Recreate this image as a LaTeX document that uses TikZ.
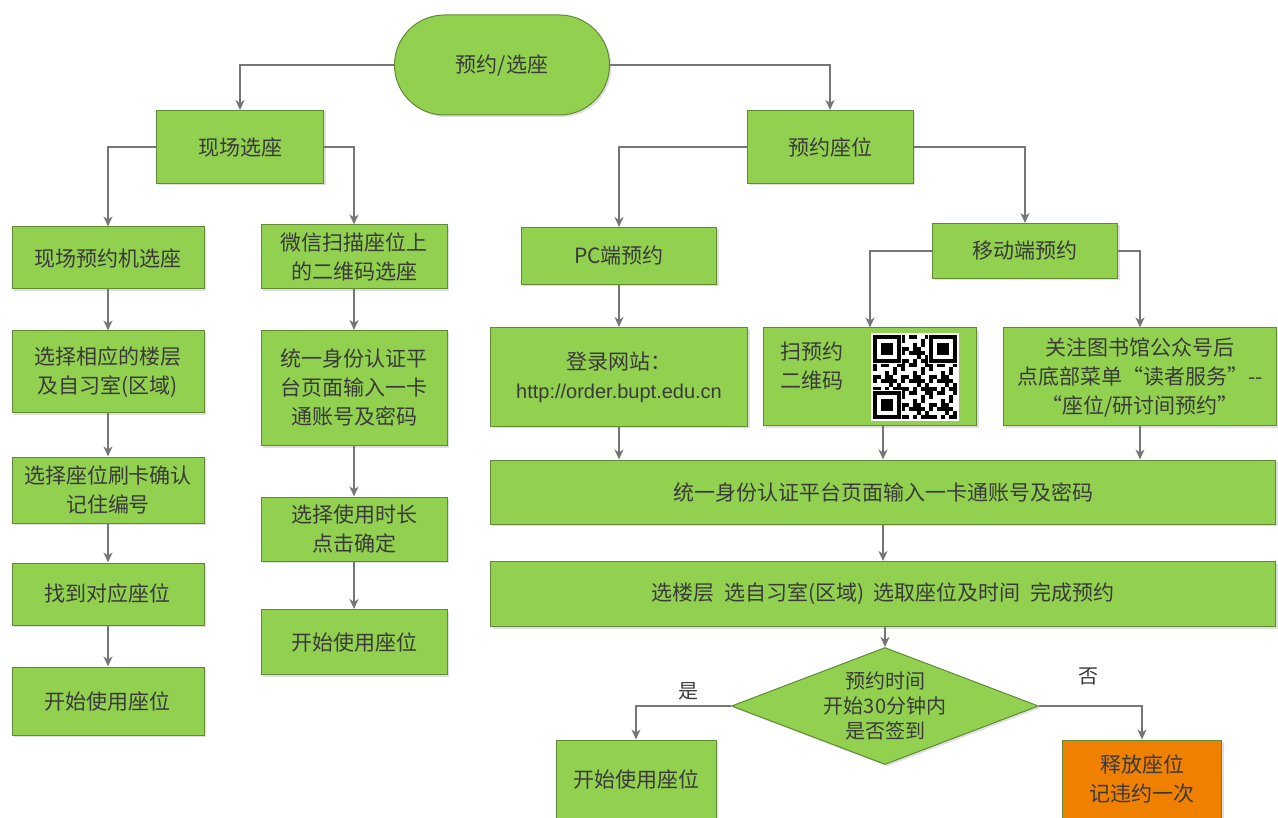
\documentclass[tikz,border=0pt]{standalone}
\usepackage{fontspec}
\setmainfont{Noto Sans CJK SC}
\newfontfamily\latinfont{Liberation Sans}
\usetikzlibrary{arrows.meta,shapes.geometric,shapes.misc,shadows}
\definecolor{boxgreen}{RGB}{146,208,80}
\definecolor{boxborder}{RGB}{96,138,52}
\definecolor{boxorange}{RGB}{240,128,0}
\definecolor{linegray}{RGB}{118,118,118}
\definecolor{textgray}{RGB}{58,58,58}
\tikzset{
  box/.style={draw=boxborder, fill=boxgreen, line width=1pt, align=center,
    text=textgray, inner sep=2pt, font=\fontsize{21}{29}\selectfont,
    drop shadow={opacity=0.25, shadow xshift=2pt, shadow yshift=-2pt}},
  flow/.style={draw=linegray, line width=1.3pt, -{Stealth[length=10pt,width=9pt,inset=3pt]}},
  answer/.style={text=textgray, font=\fontsize{20}{24}\selectfont},
  qrcode/.pic={
    \fill[white] (0,0) rectangle (88,88);
    \foreach \i in {0,...,20}{
      \foreach \j in {0,...,20}{
        \pgfmathtruncatemacro\qrv{mod(\i*\i*3+\j*7+\i*\j*5+\j*\j+\i,7)}
        \ifnum\qrv<3 \fill[black] (2+\i*4,2+\j*4) rectangle ++(4,4);\fi
      }
    }
    \foreach \fx/\fy in {2/2, 58/2, 2/58}{
      \fill[white] (\fx-1,\fy-1) rectangle ++(30,30);
      \fill[black] (\fx,\fy) rectangle ++(28,28);
      \fill[white] (\fx+4,\fy+4) rectangle ++(20,20);
      \fill[black] (\fx+8,\fy+8) rectangle ++(12,12);
    }
  }
}

\begin{document}
\begin{tikzpicture}[x=1pt, y=-1pt]
\useasboundingbox (0,0) rectangle (1278,818);
% top
\node[box, rounded rectangle, minimum width=219pt, minimum height=100pt] (start) at (502,65) {预约/选座};
\node[box, minimum width=167pt, minimum height=73pt] (onsite) at (240,147) {现场选座};
\node[box, minimum width=166pt, minimum height=73pt] (reserve) at (830,147) {预约座位};
% on-site branch
\node[box, minimum width=192pt, minimum height=62pt] (kiosk) at (108,258) {现场预约机选座};
\node[box, minimum width=192pt, minimum height=82pt] (floor) at (108,372) {选择相应的楼层\\及自习室(区域)};
\node[box, minimum width=192pt, minimum height=66pt] (swipe) at (108,490) {选择座位刷卡确认\\记住编号};
\node[box, minimum width=192pt, minimum height=62pt] (find) at (108,594) {找到对应座位};
\node[box, minimum width=192pt, minimum height=68pt] (useA) at (108,701) {开始使用座位};
\node[box, minimum width=186pt, minimum height=64pt] (wechat) at (354,257) {微信扫描座位上\\的二维码选座};
\node[box, minimum width=186pt, minimum height=115pt] (authA) at (354,388) {统一身份认证平\\台页面输入一卡\\通账号及密码};
\node[box, minimum width=186pt, minimum height=64pt] (duration) at (354,529) {选择使用时长\\点击确定};
\node[box, minimum width=186pt, minimum height=65pt] (useB) at (354,642) {开始使用座位};
% reservation branch
\node[box, minimum width=195pt, minimum height=57pt] (pc) at (619,256) {PC端预约};
\node[box, minimum width=185pt, minimum height=55pt] (mobile) at (1025,251) {移动端预约};
\node[box, minimum width=257pt, minimum height=99pt] (website) at (619,377) {登录网站：\\{\latinfont\fontsize{20}{29}\selectfont http://order.bupt.edu.cn}};
\node[box, minimum width=213pt, minimum height=98pt] (qrbox) at (870,377) {};
\node[text=textgray, align=center, font=\fontsize{21}{29}\selectfont] (qrlabel) at (812,366) {扫预约\\二维码};
\pic at (871,333) {qrcode};
\node[box, minimum width=273pt, minimum height=98pt] (follow) at (1140,377) {关注图书馆公众号后\\点底部菜单“读者服务”-{}-\\“座位/研讨间预约”};
\node[box, minimum width=785pt, minimum height=64pt] (authB) at (883,492) {统一身份认证平台页面输入一卡通账号及密码};
\node[box, minimum width=785pt, minimum height=65pt] (choose) at (883,594) {选楼层\ \ 选自习室(区域)\ \ 选取座位及时间\ \ 完成预约};
\node[box, diamond, aspect=2.62, inner sep=0pt, minimum width=307pt, minimum height=117pt,
  font=\fontsize{20}{25}\selectfont] (check) at (885,706) {预约时间\\开始30分钟内\\是否签到};
\node[box, minimum width=160pt, minimum height=78pt] (useC) at (636,779) {开始使用座位};
\node[box, fill=boxorange, minimum width=159pt, minimum height=78pt] (release) at (1142,779) {释放座位\\记违约一次};
\node[answer] (yes) at (688,691) {是};
\node[answer] (no) at (1088,676) {否};
% connectors
\draw[flow] (start.west) -| (onsite.north);
\draw[flow] (start.east) -| (reserve.north);
\draw[flow] (onsite.west) -| (kiosk.north);
\draw[flow] (onsite.east) -| (wechat.north);
\draw[flow] (kiosk) -- (floor);
\draw[flow] (floor) -- (swipe);
\draw[flow] (swipe) -- (find);
\draw[flow] (find) -- (useA);
\draw[flow] (wechat) -- (authA);
\draw[flow] (authA) -- (duration);
\draw[flow] (duration) -- (useB);
\draw[flow] (reserve.west) -| (pc.north);
\draw[flow] (reserve.east) -| (mobile.north);
\draw[flow] (pc) -- (website);
\draw[flow] (mobile.west) -| (qrbox.north);
\draw[flow] (mobile.east) -| (follow.north);
\draw[flow] (website.south) -- (website.south |- authB.north);
\draw[flow] (qrbox.south -| authB.north) -- (authB.north);
\draw[flow] (follow.south) -- (follow.south |- authB.north);
\draw[flow] (authB) -- (choose);
\draw[flow] (choose.south -| check.north) -- (check.north);
\draw[flow] (check.west) -| (useC.north);
\draw[flow] (check.east) -| (release.north);
\end{tikzpicture}
\end{document}
